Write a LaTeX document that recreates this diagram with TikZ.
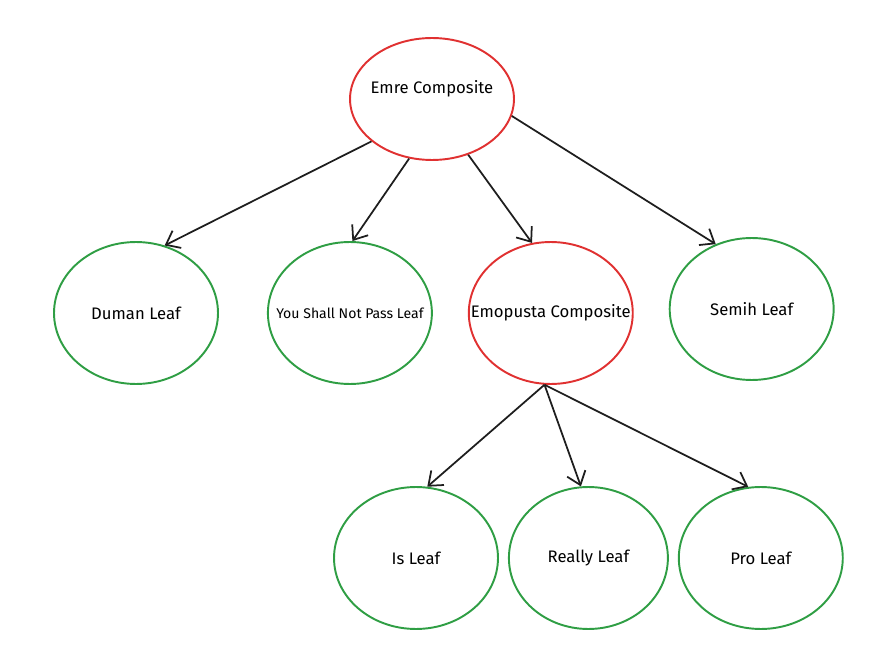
\documentclass[tikz,border=0pt]{standalone}
\usepackage{fontspec}
\setmainfont{Fira Sans}
\usetikzlibrary{positioning,shapes.geometric,arrows.meta}
\definecolor{compred}{HTML}{E03131}
\definecolor{leafgreen}{HTML}{2F9E44}
\definecolor{inkblack}{HTML}{1E1E1E}

\begin{document}
\begin{tikzpicture}[x=0.02cm,y=-0.02cm,>={Straight Barb[length=7pt,width=11pt]},
    node distance=1cm,
    composite/.style={ellipse,draw=compred,line width=1.1pt,minimum width=3.28cm,minimum height=2.84cm,inner xsep=-0.7cm,inner ysep=0pt,font=\fontsize{9.5}{11}\selectfont},
    leaf/.style={ellipse,draw=leafgreen,line width=1.1pt,minimum width=3.28cm,minimum height=2.84cm,inner xsep=-0.7cm,inner ysep=0pt,font=\fontsize{9.5}{11}\selectfont},
    link/.style={->,draw=inkblack,line width=1pt}]
  \useasboundingbox (0,0) rectangle (876,645);
  \node[composite,minimum height=2.44cm,text height=0.26cm,text depth=0.46cm] (emre) at (432,99) {Emre Composite};
  \node[leaf] (duman) at (136,313) {Duman Leaf};
  \node[leaf,right=0.96cm of duman,font=\fontsize{8}{9}\selectfont] (pass) {You Shall Not Pass Leaf};
  \node[composite,right=0.7cm of pass] (emopusta) {Emopusta Composite};
  \node[leaf,right=0.7cm of emopusta,yshift=0.08cm] (semih) {Semih Leaf};
  \node[leaf] (is) at (416,558) {Is Leaf};
  \node[leaf,right=0.18cm of is,minimum width=3.18cm] (really) {Really Leaf};
  \node[leaf,right=0.18cm of really] (pro) {Pro Leaf};
  \draw[link] (emre.215) -- (duman.67);
  \draw[link] (emre.249) -- (pass.88);
  \draw[link] (emre.303) -- (emopusta.105);
  \draw[link] (emre.348) -- (semih.119);
  \draw[link] (emopusta.265) -- (is.81);
  \draw[link] (emopusta.265) -- (really.96);
  \draw[link] (emopusta.265) -- (pro.100);
\end{tikzpicture}
\end{document}
